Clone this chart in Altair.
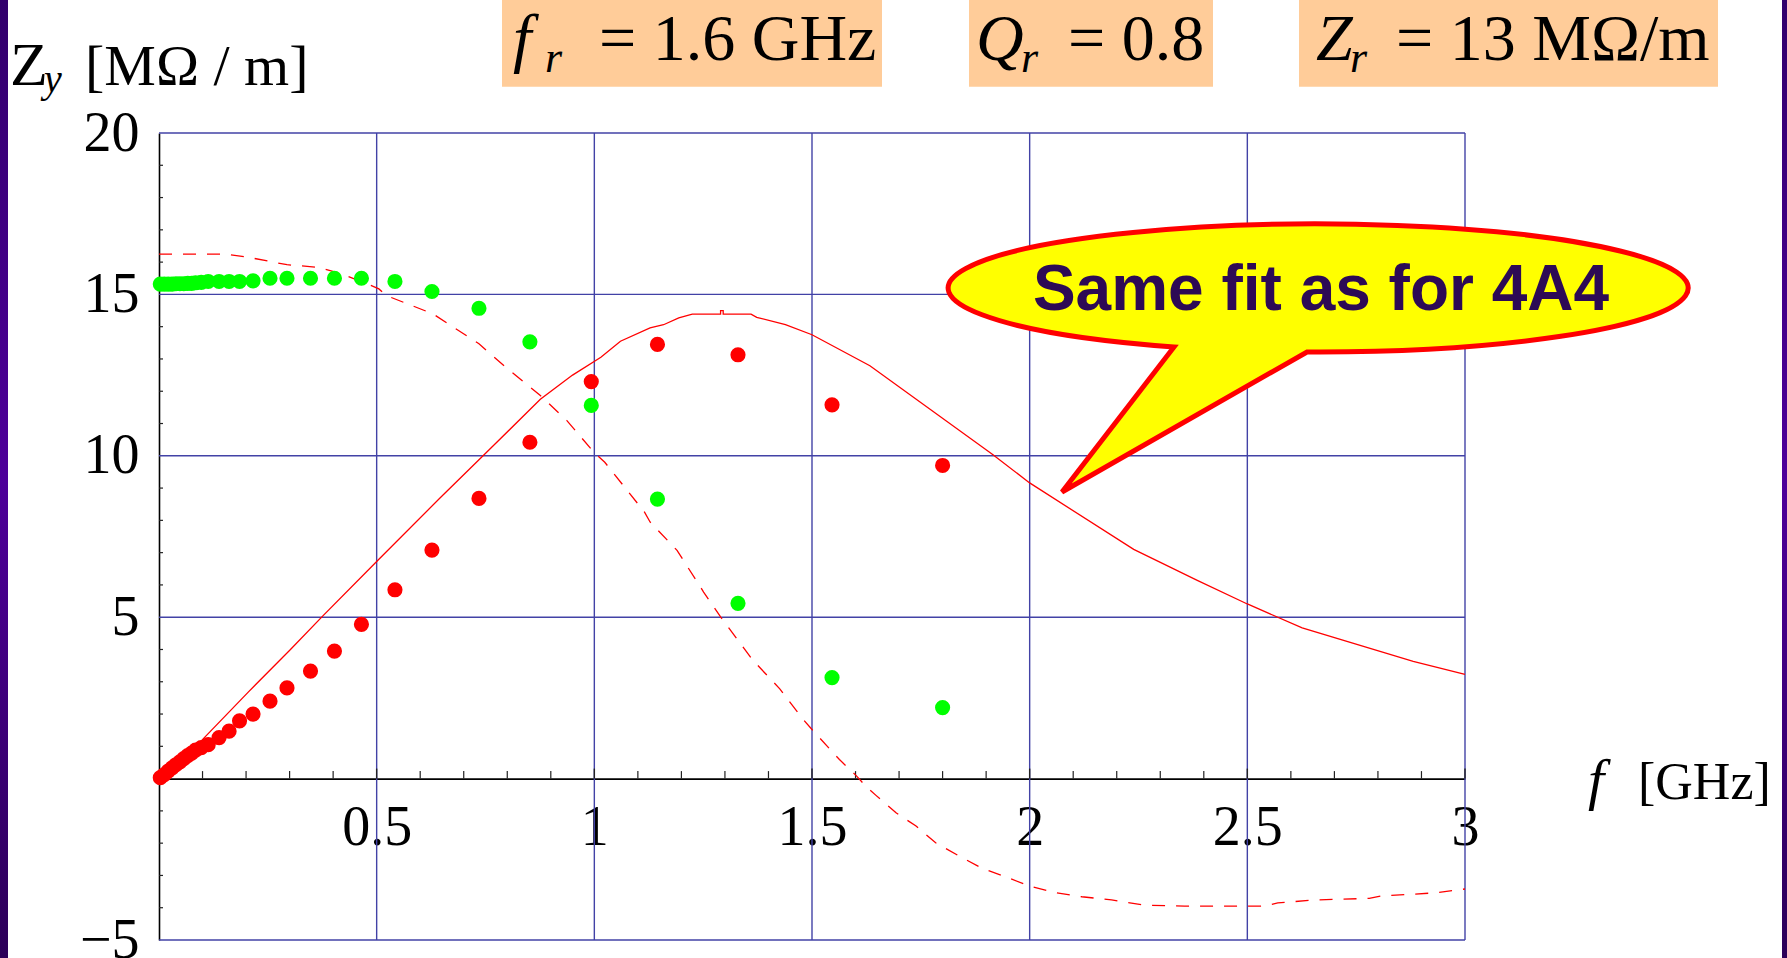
import altair as alt
import pandas as pd

# Measured transverse impedance (f in GHz, Z in MOhm/m)
meas_f = [0.003, 0.012, 0.021, 0.030, 0.039, 0.048, 0.057, 0.066, 0.075,
          0.084, 0.097, 0.113, 0.138, 0.161, 0.185, 0.216, 0.255, 0.294,
          0.348, 0.403, 0.465, 0.542, 0.627, 0.735, 0.852, 0.993, 1.145,
          1.33, 1.546, 1.80]
meas_re = [0.03, 0.12, 0.23, 0.33, 0.43, 0.52, 0.62, 0.71, 0.79,
           0.88, 0.96, 1.05, 1.27, 1.47, 1.79, 2.0, 2.40, 2.81,
           3.33, 3.95, 4.78, 5.85, 7.08, 8.68, 10.42, 12.3, 13.45,
           13.13, 11.58, 9.7]
meas_im = [15.32, 15.32, 15.32, 15.32, 15.33, 15.33, 15.33, 15.34, 15.34,
           15.36, 15.37, 15.40, 15.40, 15.40, 15.40, 15.42, 15.5, 15.5,
           15.5, 15.5, 15.5, 15.40, 15.09, 14.57, 13.53, 11.56, 8.66,
           5.43, 3.13, 2.2]

# Broadband resonator fit, real part
fit_re_f = [0, 0.04, 0.092, 0.205, 0.302, 0.377, 0.504, 0.646, 0.752,
            0.876, 0.95, 1.015, 1.06, 1.128, 1.159, 1.194, 1.225, 1.29, 1.29,
            1.296, 1.296, 1.36, 1.373, 1.439, 1.5, 1.633, 1.915, 2.0,
            2.239, 2.385, 2.5, 2.626, 2.881, 3.0]
fit_re = [0, 0.42, 1.1, 2.68, 4.0, 5.05, 6.78, 8.7, 10.1,
          11.75, 12.5, 13.05, 13.55, 13.96, 14.06, 14.27, 14.39, 14.39, 14.5,
          14.5, 14.39, 14.39, 14.29, 14.06, 13.75, 12.79, 10.04, 9.16,
          7.10, 6.14, 5.41, 4.67, 3.63, 3.23]

# Broadband resonator fit, imaginary part
fit_im_f = [0, 0.153, 0.205, 0.294, 0.364, 0.417, 0.474, 0.505, 0.523, 0.629,
            0.735, 0.796, 0.876, 0.937, 0.999, 1.024, 1.115, 1.128, 1.19,
            1.251, 1.29, 1.364, 1.426, 1.478, 1.5, 1.563, 1.601, 1.624,
            1.647, 1.693, 1.739, 1.784, 1.838, 1.891, 1.944, 2.0, 2.062,
            2.12, 2.188, 2.264, 2.356, 2.54, 2.57, 2.655, 2.78, 2.806,
            2.93, 3.0]
fit_im = [16.25, 16.25, 16.15, 15.92, 15.84, 15.65, 15.35, 15.17, 14.96, 14.4,
          13.47, 12.75, 11.87, 11.09, 10.11, 9.80, 8.26, 7.95, 7.07,
          5.78, 5.01, 3.67, 2.78, 1.86, 1.52, 0.59, 0.10, -0.24,
          -0.52, -1.06, -1.47, -1.99, -2.40, -2.78, -3.04, -3.33, -3.54,
          -3.66, -3.76, -3.92, -3.95, -3.95, -3.85, -3.76, -3.71, -3.64,
          -3.54, -3.42]

x_labels = [0.5, 1, 1.5, 2, 2.5, 3]
y_labels = [-5, 5, 10, 15, 20]
x_grid = [0.5, 1, 1.5, 2, 2.5, 3]
y_grid = [-5, 5, 10, 15, 20]
x_minor = [round(0.1 * i, 1) for i in range(1, 30) if i % 5]
y_minor = [v for v in range(-4, 20) if v % 5]

# Plot area geometry (pixels)
W, H = 1306, 807
OX, OY = 159, 133
Y0 = H * 20 / 25  # pixel row of Z = 0

SERIF = "Liberation Serif"
GRID = "#4242a6"
RED = "#ff0000"
GREEN = "#00ff00"

XS = alt.Scale(domain=[0, 3], nice=False, zero=False)
YS = alt.Scale(domain=[-5, 20], nice=False, zero=False)
XAX = alt.Axis(title=None, values=x_labels, format="~g", orient="bottom",
               offset=-(H - Y0), grid=False, ticks=False, domainColor="black",
               domainWidth=1.6, labelFont=SERIF, labelFontSize=56,
               labelColor="black", labelPadding=22, labelFlush=False,
               labelOverlap=False)
YAX = alt.Axis(title=None, values=y_labels, orient="left", grid=False,
               ticks=False, domainColor="black", domainWidth=1.6,
               labelFont=SERIF, labelFontSize=56, labelColor="black",
               labelPadding=20, labelFlush=False, labelOverlap=False)


def X(field):
    return alt.X(f"{field}:Q", scale=XS, axis=XAX)


def Y(field):
    return alt.Y(f"{field}:Q", scale=YS, axis=YAX)


meas = pd.DataFrame({"f": meas_f, "re": meas_re, "im": meas_im})
re_line = pd.DataFrame({"f": fit_re_f, "z": fit_re, "i": range(len(fit_re))})
im_line = pd.DataFrame({"f": fit_im_f, "z": fit_im, "i": range(len(fit_im))})
one = pd.DataFrame({"k": [0]})

# grid and frame
vgrid = alt.Chart(pd.DataFrame({"v": x_grid})).mark_rule(
    color=GRID, strokeWidth=1.4).encode(x=X("v"), y=alt.value(0), y2=alt.value(H))
hgrid = alt.Chart(pd.DataFrame({"v": y_grid})).mark_rule(
    color=GRID, strokeWidth=1.4).encode(y=Y("v"), x=alt.value(0), x2=alt.value(W))

# inward-pointing ticks on both axes
xt_minor = alt.Chart(pd.DataFrame({"v": x_minor})).mark_rule(
    color="#222222", strokeWidth=1.2).encode(
    x=X("v"), y=alt.value(Y0 - 7.5), y2=alt.value(Y0))
xt_major = alt.Chart(pd.DataFrame({"v": x_labels})).mark_rule(
    color="#222222", strokeWidth=1.4).encode(
    x=X("v"), y=alt.value(Y0 - 10), y2=alt.value(Y0))
yt_minor = alt.Chart(pd.DataFrame({"v": y_minor})).mark_rule(
    color="#222222", strokeWidth=1.2).encode(
    y=Y("v"), x=alt.value(0), x2=alt.value(4))

# fit curves
re_fit = alt.Chart(re_line).mark_line(color=RED, strokeWidth=1.3).encode(
    x=X("f"), y=Y("z"), order="i:Q")
im_fit = alt.Chart(im_line).mark_line(
    color=RED, strokeWidth=1.3, strokeDash=[13, 11]).encode(
    x=X("f"), y=Y("z"), order="i:Q")

# measured points
pts_im = alt.Chart(meas).mark_circle(size=230, color=GREEN, opacity=1).encode(
    x=X("f"), y=Y("im"))
pts_re = alt.Chart(meas).mark_circle(size=230, color=RED, opacity=1).encode(
    x=X("f"), y=Y("re"))


def txt(s, x, y, size, italic=False, font=SERIF, weight="normal",
        color="black", align="left"):
    return alt.Chart(one).mark_text(
        text=s, font=font, fontSize=size, fontWeight=weight,
        fontStyle="italic" if italic else "normal", color=color,
        align=align, baseline="alphabetic").encode(
        x=alt.value(x), y=alt.value(y))


def box(x1, x2, y1, y2, color):
    return alt.Chart(one).mark_rect(color=color, opacity=1).encode(
        x=alt.value(x1), x2=alt.value(x2), y=alt.value(y1), y2=alt.value(y2))


PEACH = "#ffcc99"
boxes = [
    box(343, 723, -OY, -46.3, PEACH),
    box(810, 1054, -OY, -46.3, PEACH),
    box(1140, 1559, -OY, -46.3, PEACH),
]
params = [
    txt("f", 354, -73, 66, italic=True),
    txt("r", 386, -61, 44, italic=True),
    txt("= 1.6 GHz", 440, -73, 66),
    txt("Q", 817, -73, 66, italic=True),
    txt("r", 862, -61, 44, italic=True),
    txt("= 0.8", 909, -73, 66),
    txt("Z", 1157, -73, 66, italic=True),
    txt("r", 1191, -61, 44, italic=True),
    txt("= 13 MΩ/m", 1237, -73, 66),
]
titles = [
    txt("Z", -149, -48, 62),
    txt("y", -115, -41, 40, italic=True),
    txt("[MΩ / m]", -74, -48, 58),
    txt("f", 1429, 666, 58, italic=True),
    txt("[GHz]", 1479, 666, 52),
]

# speech-bubble callout: ellipse with a pointer, in unit symbol coordinates
RX, RY = 370.0, 64.0
ry = RY / RX
ax, ay = (1174 - 1318) / RX, ry * (1 - ((1174 - 1318) / RX) ** 2) ** 0.5
bx, by = (1307 - 1318) / RX, ry * (1 - ((1307 - 1318) / RX) ** 2) ** 0.5
tx, ty = (1062 - 1318) / RX, (492 - 288) / RX
bubble_path = (f"M {bx:.4f} {by:.4f} A 1 {ry:.4f} 0 1 0 {ax:.4f} {ay:.4f} "
               f"L {tx:.4f} {ty:.4f} Z")
bubble = alt.Chart(one).mark_point(
    shape=bubble_path, size=(2 * RX) ** 2, filled=True, fill="#ffff00",
    stroke="#ff0000", strokeWidth=5, opacity=1, fillOpacity=1,
    strokeOpacity=1).encode(x=alt.value(1318 - OX), y=alt.value(288 - OY))
bubble_text = txt("Same fit as for 4A4", 1321 - OX, 310 - OY, 64,
                  font="Liberation Sans", weight="bold", color="#2d0a55",
                  align="center")

# slide side bars
bar_fill = alt.Gradient(
    gradient="linear", x1=0, x2=0, y1=0, y2=1,
    stops=[alt.GradientStop(color="#32006c", offset=0),
           alt.GradientStop(color="#4e009a", offset=0.5),
           alt.GradientStop(color="#2c0058", offset=1)])
bars = [
    alt.Chart(one).mark_rect(color=bar_fill).encode(
        x=alt.value(-OX), x2=alt.value(-OX + 8),
        y=alt.value(-OY), y2=alt.value(958 - OY)),
    alt.Chart(one).mark_rect(color=bar_fill).encode(
        x=alt.value(1782 - OX), x2=alt.value(1787 - OX),
        y=alt.value(-OY), y2=alt.value(958 - OY)),
]

chart = alt.layer(
    vgrid, hgrid, xt_minor, xt_major, yt_minor,
    re_fit, im_fit, pts_im, pts_re,
    *boxes, *params, *titles, bubble, bubble_text, *bars,
).properties(
    width=W, height=H,
    padding={"left": OX, "top": OY, "right": 1787 - OX - W,
             "bottom": 958 - OY - H},
    autosize=alt.AutoSizeParams(type="none"),
    background="white",
).configure_view(strokeWidth=0)

chart.save("out.html", embed_options={"renderer": "svg", "actions": False})
